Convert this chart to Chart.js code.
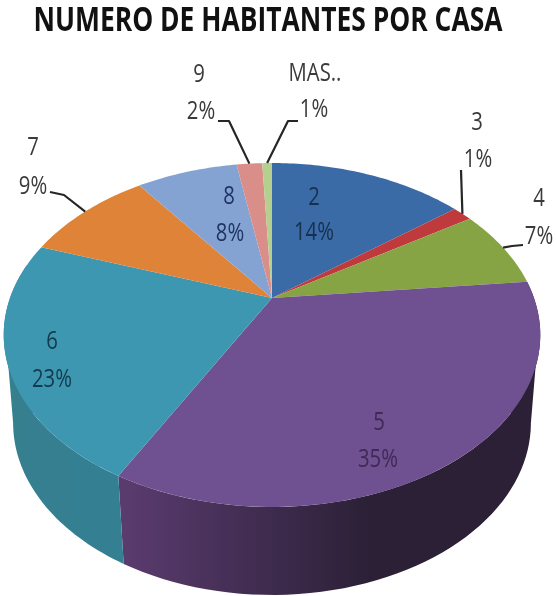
<!DOCTYPE html>
<html><head><meta charset="utf-8">
<style>html,body{margin:0;padding:0;background:#fff}canvas{display:block;filter:blur(0.5px)}</style>
<script src="https://cdn.jsdelivr.net/npm/chart.js@4"></script>
</head><body><canvas id="c" width="557" height="596"></canvas>
<script>
const categories = ['2','3','4','5','6','7','8','9','MAS..'];
const shares = [14.49,1.45,7.45,34.5,22.5,9.49,7.5,1.9,0.72];
const topColors = ['#3b6ba6','#bf3a3c','#87a445','#6f5090','#3e97b1','#df8338','#84a3d3','#d98e8a','#b5d08e'];
const wallLeft  = {3:'#5b3c70',4:'#35808f'};
const wallRight = {3:'#2b2036',4:'#357f92'};
const textColors = ['#16304f','#3a3a3a','#3a3a3a','#3d2a56','#123a4d','#3a3a3a','#1f3560','#3a3a3a','#3a3a3a'];
const labelPos = [[314,198,233],[477,123,160],[539,199,237],[379,423,460],[52,342,380],[33,148,187],[229,197,234],[199,75,112],[315,74,110]];
const labelPctX = [314,478,539,378,52,33,230,201,314];
const leaders = {1:[[461,170]],2:[[523,245],[512,246]],5:[[50,192],[64,195]],7:[[218,121],[229,121]],8:[[298,121],[288,121]]};

const view = {cx:272,cy:298,B:262,A:164,k:0.215,depth:88,shrink:0.965};
function proj(angle,r=1){
  const a=angle+Math.PI/2,u=r*Math.sin(a),v=-r*Math.cos(a),d=1-view.k*v;
  return [view.cx+view.B*u/d, view.cy+view.A*v/d];
}
function lower(p){return [view.cx+(p[0]-view.cx)*view.shrink,p[1]+view.depth];}
const fromTop=d=>d*Math.PI/180-Math.PI/2;

const pie3d={id:'pie3d',
 beforeDraw(chart){
  const box=chart.titleBlock;
  if(box&&!box._fit){
    box._fit=true;const orig=box.draw.bind(box);
    box.draw=function(){
      const ctx=chart.ctx;ctx.save();ctx.font='bold 34px "Open Sans"';
      const w=ctx.measureText(chart.options.plugins.title.text).width,sx=508/w;
      ctx.restore();ctx.save();ctx.translate(268,0);ctx.scale(sx,1);ctx.translate(-chart.width/2,0);
      orig();ctx.restore();
    };
  }
 },
 beforeDatasetDraw(chart){
  const ctx=chart.ctx,arcs=chart.getDatasetMeta(0).data;
  const front0=fromTop(82),front1=fromTop(282);
  // shoulders joining the rim to the widest point of the lower ring
  [[112.7,102.4,wallRight[3]],[247.3,257.6,wallLeft[4]]].forEach(([a,b,c])=>{
    const p=proj(fromTop(a)),l=lower(proj(fromTop(b)));
    ctx.beginPath();ctx.moveTo(p[0],p[1]);ctx.lineTo(l[0],l[1]);ctx.lineTo(view.cx,view.cy);ctx.closePath();ctx.fillStyle=c;ctx.fill();
  });
  arcs.forEach((arc,i)=>{
    const s=Math.max(arc.startAngle,front0),e=Math.min(arc.endAngle,front1);
    if(e<=s||!wallLeft[i])return;
    const top=[];for(let t=0;t<=60;t++)top.push(proj(s+(e-s)*t/60));
    const xs=top.map(p=>p[0]),g=ctx.createLinearGradient(Math.max(...xs),0,Math.min(...xs),0);
    g.addColorStop(0,wallRight[i]);g.addColorStop(0.4,wallRight[i]);g.addColorStop(1,wallLeft[i]);
    ctx.beginPath();top.forEach((p,n)=>n?ctx.lineTo(p[0],p[1]):ctx.moveTo(p[0],p[1]));
    top.slice().reverse().forEach(p=>{const q=lower(p);ctx.lineTo(q[0],q[1]);});
    ctx.closePath();ctx.fillStyle=g;ctx.fill();
  });
  arcs.forEach((arc,i)=>{
    ctx.beginPath();ctx.moveTo(view.cx,view.cy);
    const n=Math.max(6,Math.ceil((arc.endAngle-arc.startAngle)*60));
    for(let t=0;t<=n;t++){const p=proj(arc.startAngle+(arc.endAngle-arc.startAngle)*t/n);ctx.lineTo(p[0],p[1]);}
    ctx.closePath();ctx.fillStyle=topColors[i];ctx.fill();
  });
  return false;
 },
 afterDatasetsDraw(chart){
  const ctx=chart.ctx,arcs=chart.getDatasetMeta(0).data;
  ctx.save();ctx.strokeStyle='#262626';ctx.lineWidth=2.2;ctx.lineJoin='round';
  Object.keys(leaders).forEach(i=>{
    const arc=arcs[i],p=proj((arc.startAngle+arc.endAngle)/2);
    ctx.beginPath();leaders[i].forEach((q,n)=>n?ctx.lineTo(q[0],q[1]):ctx.moveTo(q[0],q[1]));
    ctx.lineTo(p[0],p[1]);ctx.stroke();
  });
  ctx.textAlign='center';ctx.textBaseline='middle';
  const put=(t,x,y,c)=>{ctx.save();ctx.translate(x,y);ctx.scale(0.78,1);ctx.font='26px "Open Sans"';ctx.fillStyle=c;ctx.fillText(t,0,0);ctx.restore();};
  categories.forEach((n,i)=>{
    put(n,labelPos[i][0],labelPos[i][1],textColors[i]);
    put(Math.round(shares[i])+'%',labelPctX[i],labelPos[i][2],textColors[i]);
  });
  ctx.restore();
 }
};
new Chart(document.getElementById('c'),{
 type:'pie',
 data:{labels:categories,datasets:[{data:shares,backgroundColor:topColors,borderWidth:0}]},
 options:{responsive:false,animation:false,
  plugins:{legend:{display:false},tooltip:{enabled:false},
   title:{display:true,text:'NUMERO DE HABITANTES POR CASA',color:'#111',
    font:{family:'"Open Sans"',weight:'bold',size:34},padding:{top:1,bottom:0}}}},
 plugins:[pie3d]
});
</script></body></html>
